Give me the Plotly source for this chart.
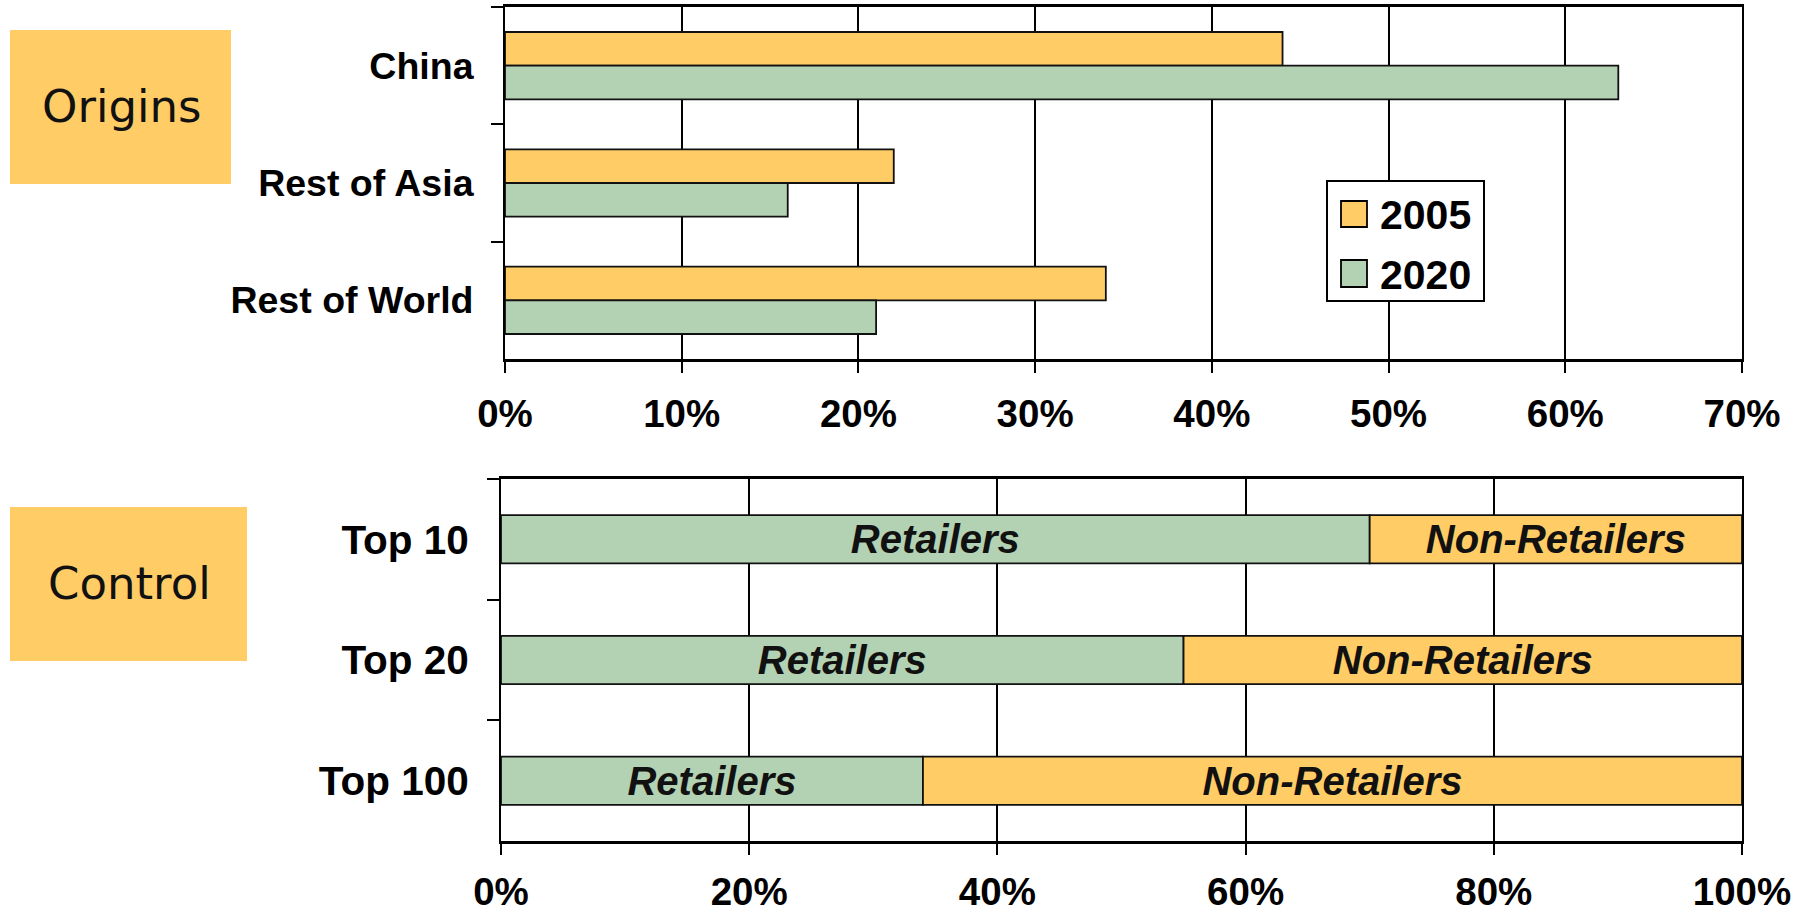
import plotly.graph_objects as go

W, H = 1809, 913

# ---------------- data ----------------
origin_categories = ["China", "Rest of Asia", "Rest of World"]
origin_years = ["2005", "2020"]
origin_2005 = [44, 22, 34]
origin_2020 = [63, 16, 21]
origin_ticks = [0, 10, 20, 30, 40, 50, 60, 70]

control_categories = ["Top 10", "Top 20", "Top 100"]
control_retailers = [70, 55, 34]
control_non_retailers = [30, 45, 66]
control_segment_names = ["Retailers", "Non-Retailers"]
control_ticks = [0, 20, 40, 60, 80, 100]

panel_labels = ["Origins", "Control"]

ORANGE = "#FFCC66"
GREEN = "#B3D1B3"
FONT = "Liberation Sans, Arial, sans-serif"


def px(x):
    return x / W


def py(y):
    return 1 - y / H


fig = go.Figure()

# ---------------- top chart: origins ----------------
fig.add_trace(go.Bar(
    y=origin_categories, x=origin_2005, name=origin_years[0], orientation="h",
    marker=dict(color=ORANGE, line=dict(color="#111", width=1.8)),
    width=0.287, offset=-0.287, xaxis="x", yaxis="y", showlegend=False,
))
fig.add_trace(go.Bar(
    y=origin_categories, x=origin_2020, name=origin_years[1], orientation="h",
    marker=dict(color=GREEN, line=dict(color="#111", width=1.8)),
    width=0.287, offset=0.0, xaxis="x", yaxis="y", showlegend=False,
))

# ---------------- bottom chart: control ----------------
seg_font = dict(family=FONT, size=40, color="#111", weight="bold", style="italic")
fig.add_trace(go.Bar(
    y=control_categories, x=control_retailers, name=control_segment_names[0],
    orientation="h", text=[control_segment_names[0]] * len(control_categories),
    textposition="inside", insidetextanchor="middle", constraintext="none",
    textfont=seg_font,
    marker=dict(color=GREEN, line=dict(color="#111", width=1.8)),
    width=0.40, offset=-0.20, xaxis="x2", yaxis="y2", showlegend=False,
))
fig.add_trace(go.Bar(
    y=control_categories, x=control_non_retailers, base=control_retailers,
    name=control_segment_names[1], orientation="h",
    text=[control_segment_names[1]] * len(control_categories),
    textposition="inside", insidetextanchor="middle", constraintext="none",
    textfont=seg_font,
    marker=dict(color=ORANGE, line=dict(color="#111", width=1.8)),
    width=0.40, offset=-0.20, xaxis="x2", yaxis="y2", showlegend=False,
))

xtickfont = dict(family=FONT, size=38.5, color="#000", weight="bold")

common_x = dict(
    showgrid=True, gridcolor="#000", gridwidth=1.6,
    zeroline=False, showline=True, linecolor="#000", linewidth=2.5, mirror=True,
    ticks="outside", ticklen=11, tickwidth=1.6, tickcolor="#000",
    tickfont=xtickfont, fixedrange=True, automargin=False,
)
common_y = dict(
    type="category", autorange="reversed", showgrid=False, zeroline=False,
    showline=True, linecolor="#000", linewidth=2, mirror=True,
    ticks="outside", tickson="boundaries", ticklen=12, tickwidth=2, tickcolor="#000",
    ticklabelstandoff=22, fixedrange=True, automargin=False,
)

fig.update_layout(
    width=W, height=H, autosize=False,
    margin=dict(l=0, r=0, t=0, b=0, pad=0, autoexpand=False),
    paper_bgcolor="white", plot_bgcolor="white",
    barmode="overlay", showlegend=False,
    font=dict(family=FONT, color="#000"),
    xaxis=dict(domain=[px(505), px(1742)], range=[0, 70], tickmode="array",
               tickvals=origin_ticks, ticktext=[f"{v}%" for v in origin_ticks],
               ticklabelstandoff=8, anchor="y", **common_x),
    yaxis=dict(domain=[py(359), py(7)], anchor="x",
               categoryarray=origin_categories,
               tickfont=dict(family=FONT, size=37.5, color="#000", weight="bold"),
               **common_y),
    xaxis2=dict(domain=[px(501), px(1742)], range=[0, 100], tickmode="array",
                tickvals=control_ticks, ticktext=[f"{v}%" for v in control_ticks],
                ticklabelstandoff=4, anchor="y2", **common_x),
    yaxis2=dict(domain=[py(841), py(479)], anchor="x2",
                categoryarray=control_categories,
                tickfont=dict(family=FONT, size=40.5, color="#000", weight="bold"),
                **common_y),
)

shapes = []
annotations = []

# panel label boxes
for label, (x0, y0, x1, y1) in zip(panel_labels, [(10, 30, 231, 184), (10, 507, 247, 661)]):
    shapes.append(dict(type="rect", xref="paper", yref="paper",
                       x0=px(x0), x1=px(x1), y0=py(y1), y1=py(y0),
                       fillcolor=ORANGE, line=dict(width=0), layer="below"))
    annotations.append(dict(xref="paper", yref="paper", x=px((x0 + x1) / 2 + 1),
                            y=py((y0 + y1) / 2 - 1), text=label, showarrow=False,
                            xanchor="center", yanchor="middle",
                            font=dict(family="DejaVu Sans, Verdana, sans-serif",
                                      size=45, color="#111")))

# legend box for the origins chart
shapes.append(dict(type="rect", xref="paper", yref="paper",
                   x0=px(1327), x1=px(1484), y0=py(301), y1=py(181),
                   fillcolor="white", line=dict(color="#000", width=2)))
for name, color, (sy0, sy1) in zip(origin_years, [ORANGE, GREEN], [(201, 227), (260, 287)]):
    shapes.append(dict(type="rect", xref="paper", yref="paper",
                       x0=px(1341), x1=px(1367), y0=py(sy1), y1=py(sy0),
                       fillcolor=color, line=dict(color="#000", width=1.8)))
    annotations.append(dict(xref="paper", yref="paper", x=px(1378),
                            y=py((sy0 + sy1) / 2 + 1), text=name, showarrow=False,
                            xanchor="left", yanchor="middle",
                            font=dict(family=FONT, size=41, color="#000", weight="bold")))

fig.update_layout(shapes=shapes, annotations=annotations)

fig.write_html("out.html", config={"displayModeBar": False},
               post_script="document.body.style.margin='0';")
